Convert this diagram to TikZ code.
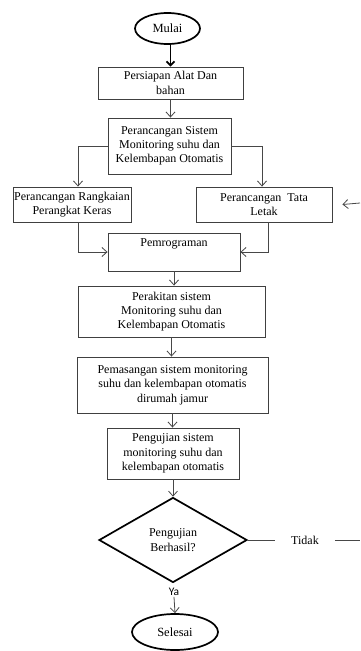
\documentclass[tikz,border=0pt]{standalone}
\usepackage{fontspec}
\setmainfont{Liberation Serif}
\newfontfamily\yafont{Carlito}
\usetikzlibrary{shapes.geometric,arrows.meta}
\begin{document}
\begin{tikzpicture}[x=1pt,y=-1pt,
  every node/.style={font=\fontsize{12}{14.3}\selectfont, inner sep=1pt, align=center},
  boxtxt/.style={font=\fontsize{12}{14.3}\selectfont},
  box/.style={draw=black!75, line width=0.9pt, rectangle, boxtxt},
  term/.style={draw=black, line width=1.7pt, ellipse, inner sep=0pt, font=\fontsize{12.5}{14}\selectfont},
  conn/.style={draw=black!72, line width=0.8pt, -{Straight Barb[length=5pt,width=9pt]}},
  plainline/.style={draw=black!72, line width=0.8pt},
  thickconn/.style={draw=black, line width=1.7pt, -{Straight Barb[length=4pt,width=8pt]}}
]
\useasboundingbox (0,0) rectangle (360,651);
\fill[white] (0,0) rectangle (360,651);

\node[term, minimum width=65pt, minimum height=31pt] (mulai) at (167.5,28.5) {Mulai};
\node[box, minimum width=145pt, minimum height=32pt] (b1) at (170.5,83) {Persiapan Alat Dan\\bahan};
\node[box, minimum width=123pt, minimum height=56pt] (b2) at (169.5,146) {Perancangan Sistem\\Monitoring suhu dan\\Kelembapan Otomatis};
\node[box, minimum width=118pt, minimum height=35pt] (bl) at (72,204.5) {Perancangan Rangkaian\\Perangkat Keras};
\node[box, minimum width=136pt, minimum height=35pt] (br) at (264,204.5) {Perancangan\ \ Tata\\Letak};
\node[box, minimum width=132pt, minimum height=38pt] (prog) at (174,252) {};
\node[boxtxt] (progt) at (174,244) {Pemrograman};
\node[box, minimum width=187pt, minimum height=51pt] (b4) at (171.5,311.5) {Perakitan sistem\\Monitoring suhu dan\\Kelembapan Otomatis};
\node[box, minimum width=191pt, minimum height=56pt] (b5) at (172.5,385) {Pemasangan sistem monitoring\\suhu dan kelembapan otomatis\\dirumah jamur};
\node[box, minimum width=132pt, minimum height=51pt] (b6) at (173,453.5) {Pengujian sistem\\monitoring suhu dan\\kelembapan otomatis};
\node[draw, diamond, line width=1.7pt, minimum width=148pt, minimum height=85pt, inner sep=0pt] (dec) at (173,540) {Pengujian\\Berhasil?};
\node[inner xsep=16pt] (tidak) at (305,540) {Tidak};
\node[font=\yafont\fontsize{11.5}{13}\selectfont] (ya) at (174,592) {Ya};
\node[term, minimum width=86pt, minimum height=36pt] (selesai) at (175,632) {Selesai};
\coordinate (loopin) at (360,203);
\coordinate (loopout) at (360,540);

\draw[thickconn] (b1.north |- mulai.south) -- (b1.north);
\draw[conn] (b1.south) -- (b1.south |- b2.north);
\draw[conn] (b2.west) -| ([xshift=6pt]bl.north);
\draw[conn] (b2.east) -| ([xshift=-2pt]br.north);
\draw[conn] ([xshift=6pt]bl.south) |- (prog.west);
\draw[conn] ([xshift=4pt]br.south) |- (prog.east);
\draw[conn] (prog.south) -- (prog.south |- b4.north);
\draw[conn] (b4.south) -- (b4.south |- b5.north);
\draw[conn] (b5.south) -- (b5.south |- b6.north);
\draw[conn] (b6.south) -- (dec.north);
\draw[plainline] (dec.east) -- (tidak.west);
\draw[plainline] (tidak.east) -- (loopout);
\draw[conn] (loopin) -- ([xshift=10pt]br.east);
\draw[conn] (ya.south) -- (selesai.north);
\end{tikzpicture}
\end{document}
